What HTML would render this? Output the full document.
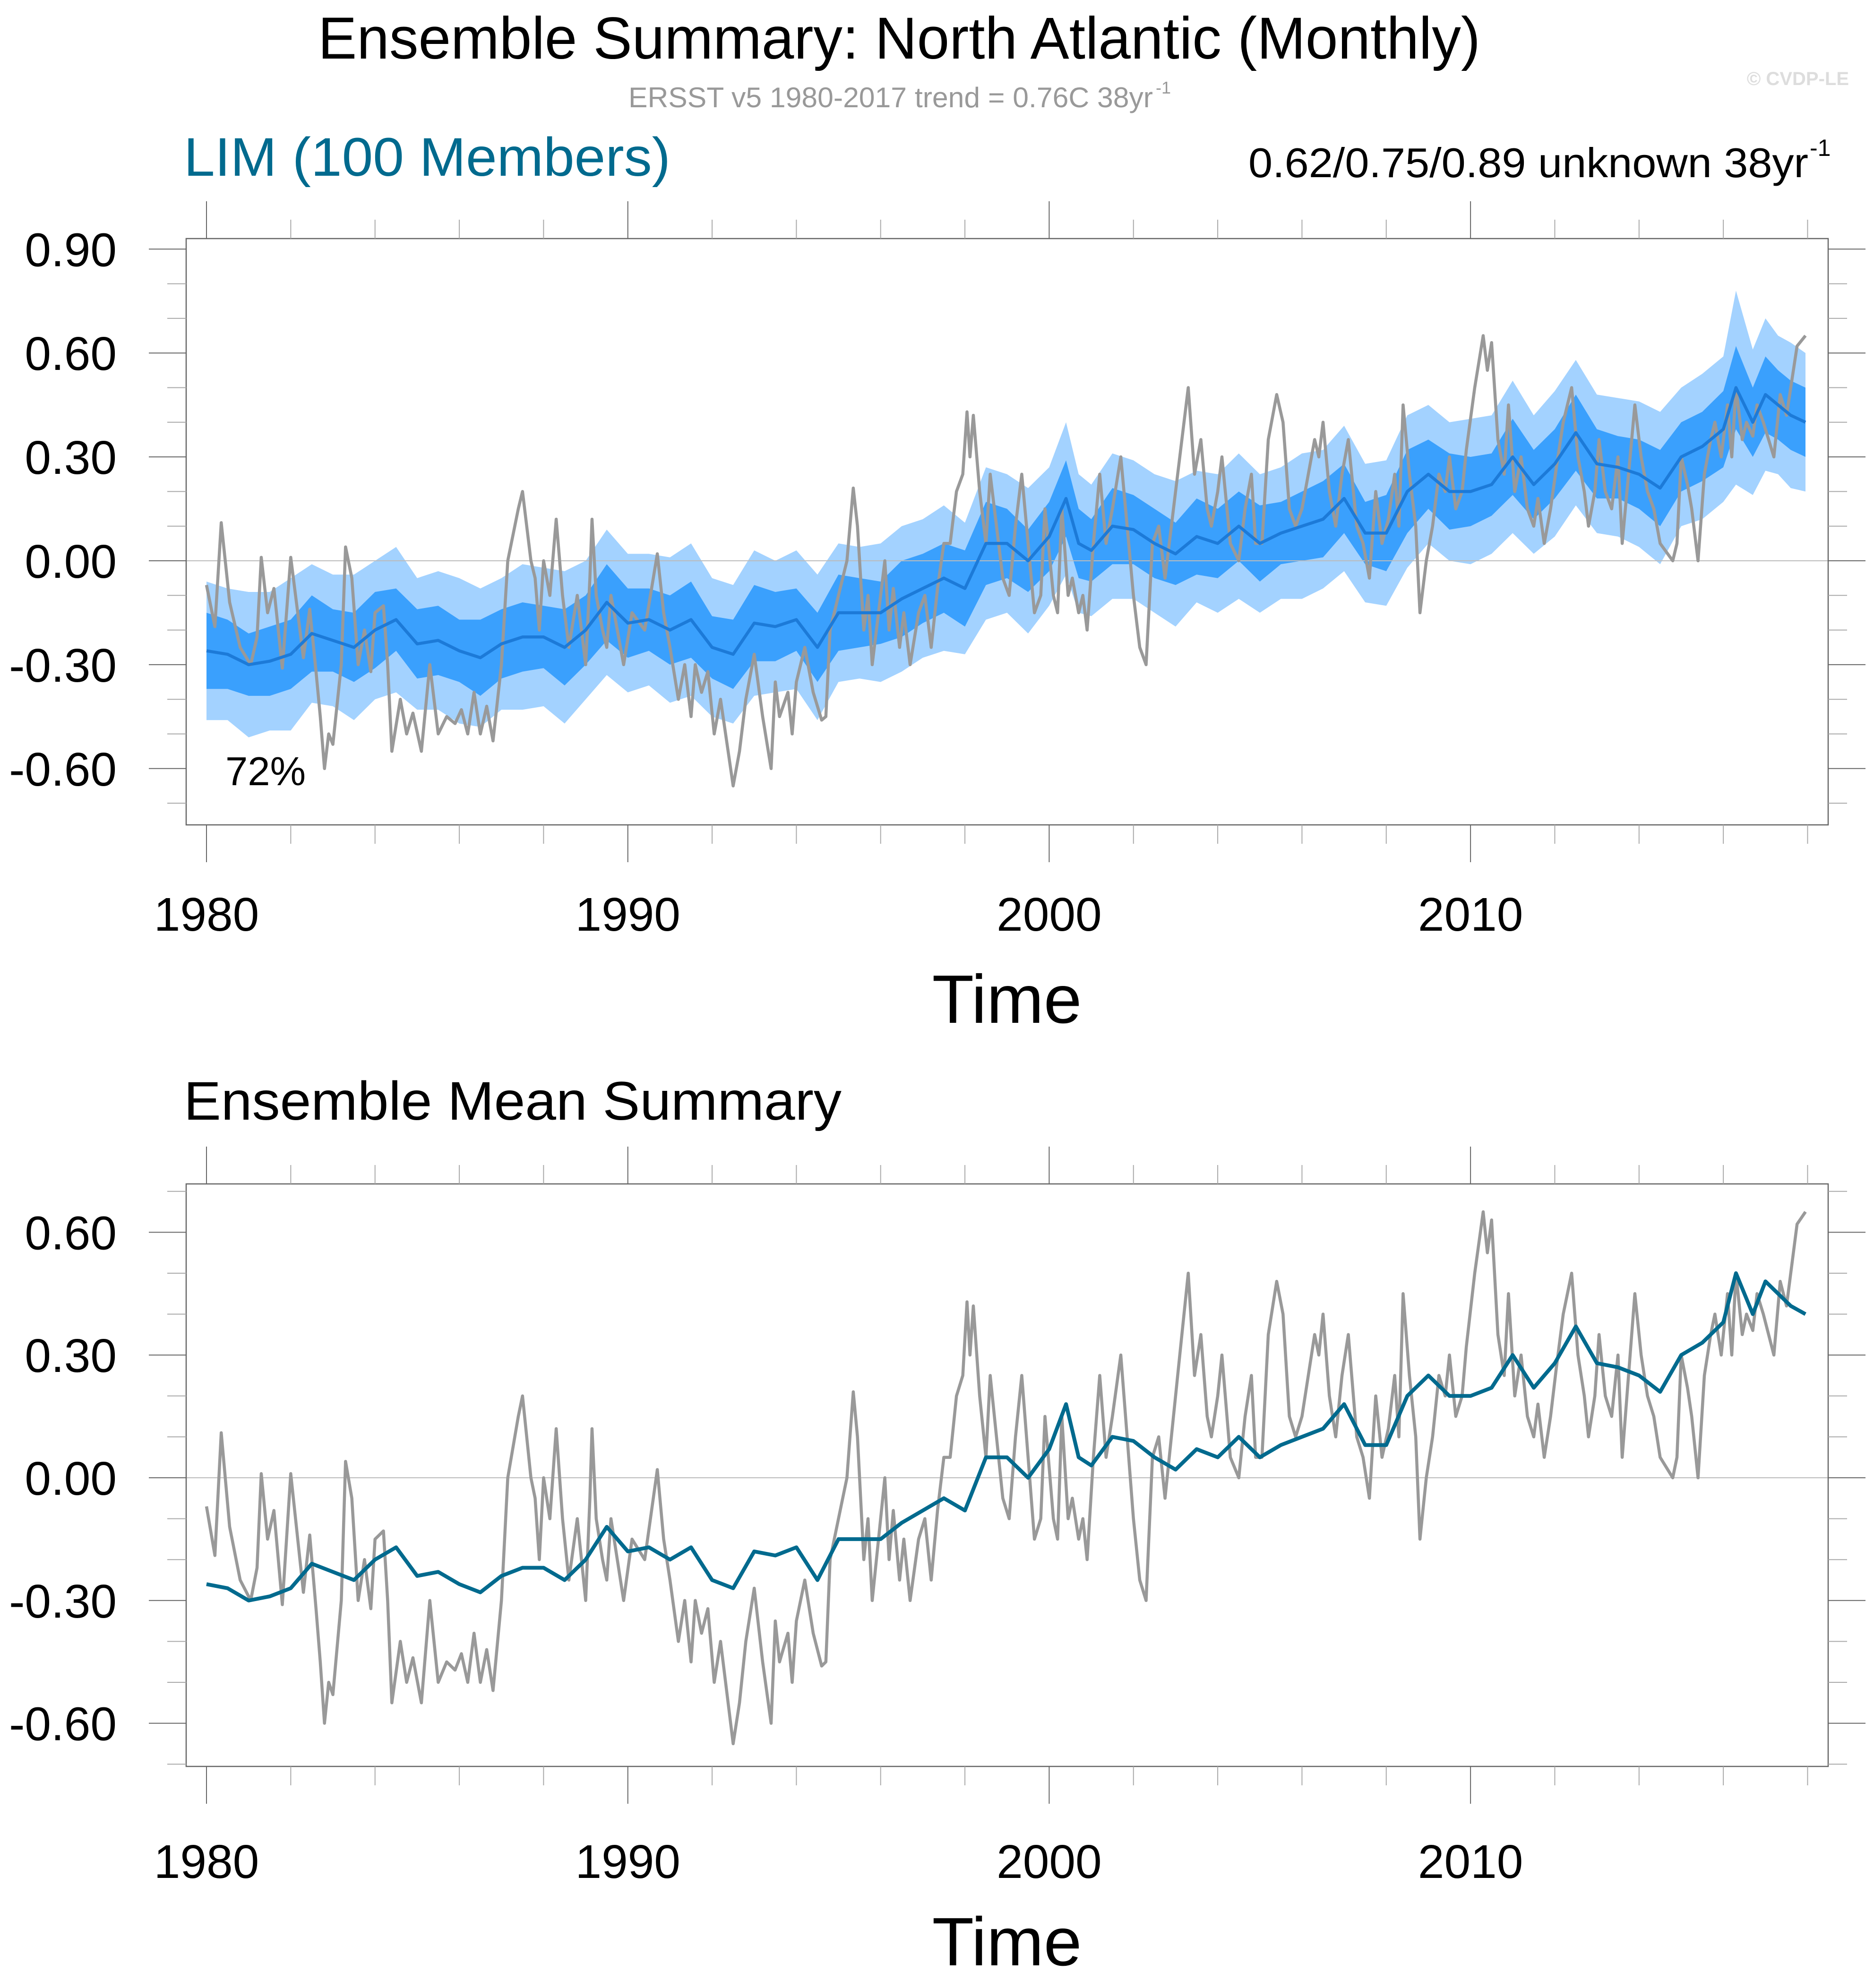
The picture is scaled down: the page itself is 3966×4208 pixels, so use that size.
<!DOCTYPE html>
<html><head><meta charset="utf-8"><style>
html,body{margin:0;padding:0;background:#fff}
svg{display:block;font-family:"Liberation Sans",sans-serif}
</style></head><body>
<svg id="chart" width="3966" height="4208" viewBox="0 0 3966 4208" xmlns="http://www.w3.org/2000/svg">
<text x="1903" y="124" font-size="125" text-anchor="middle" textLength="2460" lengthAdjust="spacingAndGlyphs">Ensemble Summary: North Atlantic (Monthly)</text>
<text x="1330" y="227" font-size="60" fill="#999" textLength="1110" lengthAdjust="spacingAndGlyphs">ERSST v5 1980-2017 trend = 0.76C 38yr</text>
<text x="2446" y="198" font-size="36" fill="#999">-1</text>
<text x="3913" y="180" font-size="40" fill="#ddd" font-weight="bold" text-anchor="end">© CVDP-LE</text>
<text x="389" y="372" font-size="115" fill="#006a8e" textLength="1030" lengthAdjust="spacingAndGlyphs">LIM (100 Members)</text>
<text x="2642" y="375" font-size="88" textLength="1185" lengthAdjust="spacingAndGlyphs">0.62/0.75/0.89 unknown 38yr</text>
<text x="3830" y="330" font-size="50">-1</text>
<text x="389" y="2370" font-size="115" textLength="1392" lengthAdjust="spacingAndGlyphs">Ensemble Mean Summary</text>
<g id="p1"></g>
<g id="p2"></g>
</svg>
<script>
// observed (ERSST) anomalies: time (fractional year) and value
const obsT = [1980.0,1980.2,1980.35,1980.55,1980.8,1981.05,1981.2,1981.3,1981.45,1981.6,1981.8,1982.0,1982.3,1982.45,1982.6,1982.7,1982.8,1982.9,1983.0,1983.2,1983.3,1983.45,1983.6,1983.75,1983.9,1984.0,1984.2,1984.3,1984.4,1984.6,1984.75,1984.9,1985.1,1985.3,1985.5,1985.7,1985.9,1986.05,1986.2,1986.35,1986.5,1986.65,1986.8,1987.0,1987.15,1987.4,1987.5,1987.7,1987.8,1987.9,1988.0,1988.15,1988.3,1988.45,1988.6,1988.8,1989.0,1989.1,1989.15,1989.25,1989.4,1989.5,1989.6,1989.75,1989.9,1990.1,1990.4,1990.7,1990.85,1991.0,1991.2,1991.35,1991.5,1991.6,1991.75,1991.9,1992.05,1992.2,1992.5,1992.65,1992.8,1993.0,1993.2,1993.4,1993.5,1993.6,1993.8,1993.9,1994.0,1994.2,1994.4,1994.6,1994.7,1994.8,1995.0,1995.2,1995.35,1995.45,1995.6,1995.7,1995.8,1996.1,1996.2,1996.3,1996.45,1996.55,1996.7,1996.9,1997.05,1997.2,1997.35,1997.5,1997.65,1997.8,1997.95,1998.05,1998.12,1998.2,1998.35,1998.5,1998.6,1998.75,1998.9,1999.05,1999.2,1999.35,1999.5,1999.65,1999.8,1999.9,2000.1,2000.2,2000.3,2000.45,2000.55,2000.7,2000.8,2000.9,2001.05,2001.2,2001.35,2001.5,2001.7,2001.85,2002.0,2002.15,2002.3,2002.45,2002.6,2002.75,2002.9,2003.1,2003.3,2003.45,2003.6,2003.75,2003.85,2004.0,2004.1,2004.3,2004.5,2004.65,2004.8,2004.9,2005.05,2005.2,2005.4,2005.55,2005.7,2005.85,2006.0,2006.15,2006.3,2006.4,2006.5,2006.65,2006.8,2006.95,2007.1,2007.3,2007.45,2007.6,2007.75,2007.9,2008.05,2008.2,2008.3,2008.4,2008.55,2008.7,2008.8,2008.95,2009.1,2009.25,2009.4,2009.5,2009.65,2009.8,2009.9,2010.1,2010.3,2010.4,2010.5,2010.65,2010.8,2010.9,2011.05,2011.2,2011.35,2011.5,2011.6,2011.75,2011.9,2012.05,2012.2,2012.4,2012.55,2012.7,2012.8,2012.95,2013.05,2013.2,2013.35,2013.5,2013.6,2013.75,2013.9,2014.05,2014.2,2014.35,2014.5,2014.8,2014.9,2015.0,2015.15,2015.25,2015.4,2015.55,2015.7,2015.8,2015.95,2016.1,2016.2,2016.3,2016.45,2016.55,2016.7,2016.8,2016.95,2017.2,2017.35,2017.5,2017.6,2017.75,2017.95];
const obsV = [-0.07,-0.19,0.11,-0.12,-0.25,-0.30,-0.22,0.01,-0.15,-0.08,-0.31,0.01,-0.28,-0.14,-0.32,-0.45,-0.60,-0.50,-0.53,-0.30,0.04,-0.05,-0.30,-0.20,-0.32,-0.15,-0.13,-0.30,-0.55,-0.40,-0.50,-0.44,-0.55,-0.30,-0.50,-0.45,-0.47,-0.43,-0.50,-0.38,-0.50,-0.42,-0.52,-0.30,0.00,0.15,0.20,0.00,-0.05,-0.20,0.00,-0.10,0.12,-0.10,-0.25,-0.10,-0.30,-0.05,0.12,-0.10,-0.20,-0.25,-0.10,-0.20,-0.30,-0.15,-0.20,0.02,-0.15,-0.25,-0.40,-0.30,-0.45,-0.30,-0.38,-0.32,-0.50,-0.40,-0.65,-0.55,-0.40,-0.27,-0.45,-0.60,-0.35,-0.45,-0.38,-0.50,-0.35,-0.25,-0.38,-0.46,-0.45,-0.20,-0.10,0.00,0.21,0.10,-0.20,-0.10,-0.30,0.00,-0.20,-0.08,-0.25,-0.15,-0.30,-0.15,-0.10,-0.25,-0.08,0.05,0.05,0.20,0.25,0.43,0.30,0.42,0.20,0.05,0.25,0.10,-0.05,-0.10,0.10,0.25,0.05,-0.15,-0.10,0.15,-0.10,-0.15,0.15,-0.10,-0.05,-0.15,-0.10,-0.20,0.05,0.25,0.05,0.15,0.30,0.10,-0.10,-0.25,-0.30,0.05,0.10,-0.05,0.10,0.30,0.50,0.25,0.35,0.15,0.10,0.20,0.30,0.05,0.00,0.15,0.25,0.05,0.05,0.35,0.48,0.40,0.15,0.10,0.15,0.25,0.35,0.30,0.40,0.20,0.10,0.25,0.35,0.10,0.05,-0.05,0.20,0.05,0.12,0.25,0.10,0.45,0.25,0.10,-0.15,0.00,0.10,0.25,0.20,0.30,0.15,0.20,0.32,0.50,0.65,0.55,0.63,0.35,0.25,0.45,0.20,0.30,0.15,0.10,0.18,0.05,0.15,0.28,0.40,0.50,0.30,0.20,0.10,0.20,0.35,0.20,0.15,0.30,0.05,0.25,0.45,0.30,0.20,0.15,0.05,0.00,0.05,0.30,0.22,0.15,0.00,0.25,0.35,0.40,0.30,0.45,0.30,0.50,0.35,0.40,0.36,0.45,0.40,0.30,0.48,0.42,0.50,0.62,0.65];
// ensemble mean and spread (half-widths of inner and outer ranges)
const ensT = [1980.0,1980.5,1981.0,1981.5,1982.0,1982.5,1983.0,1983.5,1984.0,1984.5,1985.0,1985.5,1986.0,1986.5,1987.0,1987.5,1988.0,1988.5,1989.0,1989.5,1990.0,1990.5,1991.0,1991.5,1992.0,1992.5,1993.0,1993.5,1994.0,1994.5,1995.0,1995.5,1996.0,1996.5,1997.0,1997.5,1998.0,1998.5,1999.0,1999.5,2000.0,2000.4,2000.7,2001.0,2001.5,2002.0,2002.5,2003.0,2003.5,2004.0,2004.5,2005.0,2005.5,2006.0,2006.5,2007.0,2007.5,2008.0,2008.5,2009.0,2009.5,2010.0,2010.5,2011.0,2011.5,2012.0,2012.5,2013.0,2013.5,2014.0,2014.5,2015.0,2015.5,2016.0,2016.3,2016.7,2017.0,2017.3,2017.6,2017.95];
const ensMean = [-0.26,-0.27,-0.30,-0.29,-0.27,-0.21,-0.23,-0.25,-0.20,-0.17,-0.24,-0.23,-0.26,-0.28,-0.24,-0.22,-0.22,-0.25,-0.20,-0.12,-0.18,-0.17,-0.20,-0.17,-0.25,-0.27,-0.18,-0.19,-0.17,-0.25,-0.15,-0.15,-0.15,-0.11,-0.08,-0.05,-0.08,0.05,0.05,0.00,0.07,0.18,0.05,0.03,0.10,0.09,0.05,0.02,0.07,0.05,0.10,0.05,0.08,0.10,0.12,0.18,0.08,0.08,0.20,0.25,0.20,0.20,0.22,0.30,0.22,0.28,0.37,0.28,0.27,0.25,0.21,0.30,0.33,0.38,0.50,0.40,0.48,0.45,0.42,0.40];
const innerHalf = [0.11,0.10,0.09,0.10,0.10,0.11,0.09,0.10,0.11,0.09,0.10,0.10,0.09,0.11,0.10,0.10,0.09,0.11,0.10,0.11,0.10,0.09,0.10,0.11,0.09,0.10,0.11,0.10,0.09,0.10,0.11,0.10,0.09,0.11,0.10,0.10,0.11,0.12,0.10,0.09,0.10,0.11,0.10,0.09,0.11,0.10,0.10,0.09,0.11,0.10,0.10,0.11,0.09,0.10,0.11,0.10,0.09,0.11,0.12,0.10,0.11,0.10,0.09,0.11,0.10,0.10,0.11,0.10,0.09,0.10,0.11,0.10,0.10,0.11,0.12,0.10,0.11,0.10,0.10,0.10];
const outerHalf = [0.20,0.19,0.21,0.20,0.22,0.20,0.19,0.21,0.20,0.21,0.19,0.20,0.21,0.20,0.19,0.21,0.20,0.22,0.20,0.21,0.20,0.19,0.21,0.22,0.20,0.20,0.21,0.19,0.20,0.21,0.20,0.19,0.20,0.21,0.20,0.21,0.19,0.22,0.20,0.21,0.20,0.22,0.20,0.19,0.21,0.20,0.20,0.21,0.19,0.20,0.21,0.20,0.19,0.21,0.20,0.21,0.20,0.21,0.22,0.20,0.20,0.21,0.20,0.22,0.20,0.21,0.21,0.20,0.20,0.21,0.22,0.20,0.21,0.21,0.28,0.21,0.22,0.20,0.21,0.20];
const xTickYears = [1980,1990,2000,2010];
const yTicks1 = [0.9,0.6,0.3,0.0,-0.3,-0.6];
const yTicks2 = [0.6,0.3,0.0,-0.3,-0.6];

const NS='http://www.w3.org/2000/svg';
function mk(parent,tag,attrs){const e=document.createElementNS(NS,tag);for(const k in attrs)e.setAttribute(k,attrs[k]);parent.appendChild(e);return e;}
const X0=394,X1=3869;
function xs(t){return 437+(t-1980)*89.17;}

function panel(g,top,bot,yZero,perUnit,vMin,vMax,yTicks,isTop,labelY,timeY){
  const ys=v=>yZero-v*perUnit;
  if(isTop){
    const outer=mk(g,'path',{d:band(ensMean.map((m,i)=>m+outerHalf[i]),ensMean.map((m,i)=>m-outerHalf[i]),ys),fill:'#a3d2ff'});
    
    
    const inner=mk(g,'path',{d:band(ensMean.map((m,i)=>m+innerHalf[i]),ensMean.map((m,i)=>m-innerHalf[i]),ys),fill:'#3aa0fd'});
    
    
  }
  const zl=mk(g,'line',{x1:X0,x2:X1,y1:ys(0),y2:ys(0),stroke:'#bbb','stroke-width':2});
  
  
  const ob=mk(g,'polyline',{points:obsT.map((t,i)=>xs(t).toFixed(1)+','+ys(obsV[i]).toFixed(1)).join(' '),fill:'none',stroke:'#999','stroke-width':6.5,'stroke-linejoin':'round'});
  
  
  const ml=mk(g,'polyline',{points:ensT.map((t,i)=>xs(t).toFixed(1)+','+ys(ensMean[i]).toFixed(1)).join(' '),fill:'none',stroke:isTop?'#1c7ad8':'#006a8e','stroke-width':isTop?6.5:8,'stroke-linejoin':'round'});
  
  
  const box=mk(g,'rect',{x:X0,y:top,width:X1-X0,height:bot-top,fill:'none',stroke:'#666','stroke-width':2.5});
  
  
  for(let k=Math.ceil(vMin*10);k<=Math.floor(vMax*10);k++){
    const v=k/10, y=ys(v), major=yTicks.some(t=>Math.abs(t-v)<1e-6);
    const L=major?79:40;
    const a=mk(g,'line',{x1:X0-L,x2:X0,y1:y,y2:y,stroke:major?'#666':'#aaa','stroke-width':2});
    
    
    const b=mk(g,'line',{x1:X1,x2:X1+L,y1:y,y2:y,stroke:major?'#666':'#aaa','stroke-width':2});
    
    
  }
  yTicks.forEach(v=>{
    const t=mk(g,'text',{x:247,y:ys(v)+36,'font-size':100,'text-anchor':'end'});
    t.textContent=v.toFixed(2);
    
    
  });
  for(let yr=1980;yr<=2018;yr+=2){
    const major=xTickYears.includes(yr), L=major?79:40, x=xs(yr);
    const a=mk(g,'line',{x1:x,x2:x,y1:top-L,y2:top,stroke:major?'#666':'#aaa','stroke-width':2});
    
    
    const b=mk(g,'line',{x1:x,x2:x,y1:bot,y2:bot+L,stroke:major?'#666':'#aaa','stroke-width':2});
    
    
  }
  xTickYears.forEach(yr=>{
    const t=mk(g,'text',{x:xs(yr),y:labelY,'font-size':100,'text-anchor':'middle'});
    t.textContent=String(yr);
    
    
  });
  const tt=mk(g,'text',{x:2131,y:timeY,'font-size':145,'text-anchor':'middle'});
  tt.textContent='Time';
  
  
}
function band(up,lo,ys){
  let d='M'+ensT.map((t,i)=>xs(t).toFixed(1)+','+ys(up[i]).toFixed(1)).join('L');
  for(let i=ensT.length-1;i>=0;i--)d+='L'+xs(ensT[i]).toFixed(1)+','+ys(lo[i]).toFixed(1);
  return d+'Z';
}
const p1=document.getElementById('p1'),p2=document.getElementById('p2');
panel(p1,505,1746,1187,733,-0.76,0.93,yTicks1,true,1970,2165);
panel(p2,2506,3739,3128,866,-0.70,0.72,yTicks2,false,3975,4160);
const pct=mk(p1,'text',{x:477,y:1662,'font-size':85});
pct.textContent='72%';


</script>
</body></html>
